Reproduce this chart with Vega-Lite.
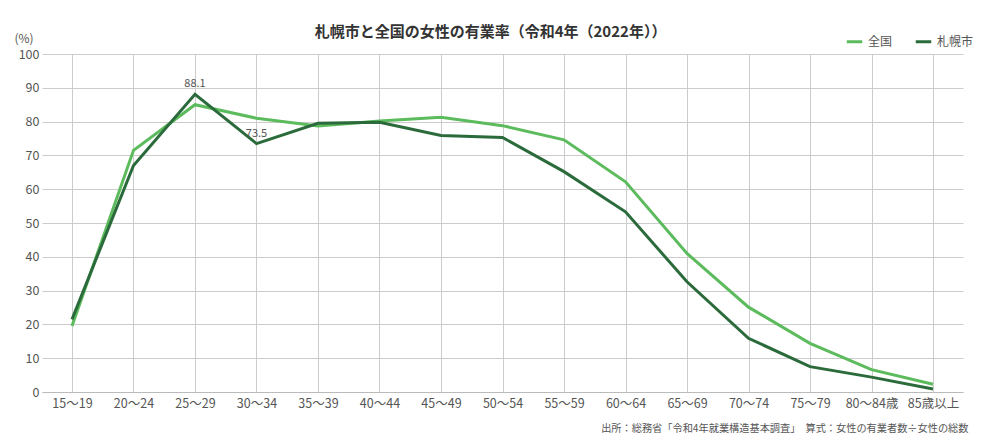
{
  "$schema": "https://vega.github.io/schema/vega-lite/v6.json",
  "autosize": "none",
  "width": 921,
  "height": 338,
  "padding": {"left": 42, "top": 54, "right": 21, "bottom": 54},
  "background": "white",
  "config": {
    "font": "Noto Sans CJK JP",
    "view": {"stroke": null}
  },
  "title": {
    "text": "札幌市と全国の女性の有業率（令和4年（2022年））",
    "fontSize": 15,
    "fontWeight": "bold",
    "color": "#333333",
    "anchor": "middle",
    "dx": -12,
    "offset": -8
  },
  "data": {
    "values": [
      {"age": "15～19", "series": "全国", "rate": 19.5},
      {"age": "20～24", "series": "全国", "rate": 71.5},
      {"age": "25～29", "series": "全国", "rate": 85.0},
      {"age": "30～34", "series": "全国", "rate": 81.0},
      {"age": "35～39", "series": "全国", "rate": 78.7},
      {"age": "40～44", "series": "全国", "rate": 80.2},
      {"age": "45～49", "series": "全国", "rate": 81.3},
      {"age": "50～54", "series": "全国", "rate": 78.8},
      {"age": "55～59", "series": "全国", "rate": 74.6},
      {"age": "60～64", "series": "全国", "rate": 62.2},
      {"age": "65～69", "series": "全国", "rate": 41.0},
      {"age": "70～74", "series": "全国", "rate": 25.1},
      {"age": "75～79", "series": "全国", "rate": 14.4},
      {"age": "80～84歳", "series": "全国", "rate": 6.6},
      {"age": "85歳以上", "series": "全国", "rate": 2.3},
      {"age": "15～19", "series": "札幌市", "rate": 21.5},
      {"age": "20～24", "series": "札幌市", "rate": 67.0},
      {"age": "25～29", "series": "札幌市", "rate": 88.1},
      {"age": "30～34", "series": "札幌市", "rate": 73.5},
      {"age": "35～39", "series": "札幌市", "rate": 79.5},
      {"age": "40～44", "series": "札幌市", "rate": 79.8},
      {"age": "45～49", "series": "札幌市", "rate": 75.9},
      {"age": "50～54", "series": "札幌市", "rate": 75.3},
      {"age": "55～59", "series": "札幌市", "rate": 65.2},
      {"age": "60～64", "series": "札幌市", "rate": 53.3},
      {"age": "65～69", "series": "札幌市", "rate": 32.6},
      {"age": "70～74", "series": "札幌市", "rate": 15.9},
      {"age": "75～79", "series": "札幌市", "rate": 7.5},
      {"age": "80～84歳", "series": "札幌市", "rate": 4.4},
      {"age": "85歳以上", "series": "札幌市", "rate": 0.9}
    ]
  },
  "encoding": {
    "x": {
      "field": "age",
      "type": "nominal",
      "sort": null,
      "scale": {"type": "point", "padding": 0.4878},
      "axis": {
        "title": "出所：総務省「令和4年就業構造基本調査」　算式：女性の有業者数÷女性の総数",
        "titleAnchor": "end",
        "titleAlign": "right",
        "titleX": 926,
        "titleFontSize": 10.2,
        "titleFontWeight": "normal",
        "titleColor": "#555555",
        "titlePadding": 14,
        "labelAngle": 0,
        "labelFontSize": 12.5,
        "labelColor": "#555555",
        "labelPadding": 5,
        "ticks": false,
        "grid": true,
        "gridColor": "#cccccc",
        "domainColor": "#bbbbbb",
        "labelFont": "Noto Sans CJK JP"
      }
    },
    "y": {
      "field": "rate",
      "type": "quantitative",
      "scale": {"domain": [0, 100]},
      "axis": {
        "title": "(%)",
        "titleAngle": 0,
        "titleAlign": "left",
        "titleBaseline": "bottom",
        "titleX": -28,
        "titleY": -9,
        "titleFontSize": 12,
        "titleFontWeight": "normal",
        "titleColor": "#555555",
        "values": [0, 10, 20, 30, 40, 50, 60, 70, 80, 90, 100],
        "labelFontSize": 12.5,
        "labelColor": "#555555",
        "labelPadding": 3,
        "ticks": false,
        "domain": false,
        "gridColor": "#cccccc"
      }
    }
  },
  "layer": [
    {
      "mark": {"type": "line", "strokeWidth": 3},
      "encoding": {
        "color": {
          "field": "series",
          "type": "nominal",
          "sort": ["全国", "札幌市"],
          "scale": {"domain": ["全国", "札幌市"], "range": ["#5cbb5c", "#2b6b3b"]},
          "legend": {
            "title": null,
            "orient": "none",
            "legendX": 803,
            "legendY": -22,
            "direction": "horizontal",
            "symbolType": "stroke",
            "symbolStrokeWidth": 3,
            "symbolSize": 240,
            "labelFontSize": 12,
            "labelColor": "#555555",
            "columnPadding": 16,
            "labelOffset": 4
          }
        }
      }
    },
    {
      "transform": [
        {"filter": "datum.series === '札幌市' && (datum.age === '25～29' || datum.age === '30～34')"}
      ],
      "mark": {"type": "text", "dy": -5, "fontSize": 11, "color": "#555555", "baseline": "bottom"},
      "encoding": {
        "text": {"field": "rate", "type": "quantitative", "format": ".1f"}
      }
    }
  ]
}
